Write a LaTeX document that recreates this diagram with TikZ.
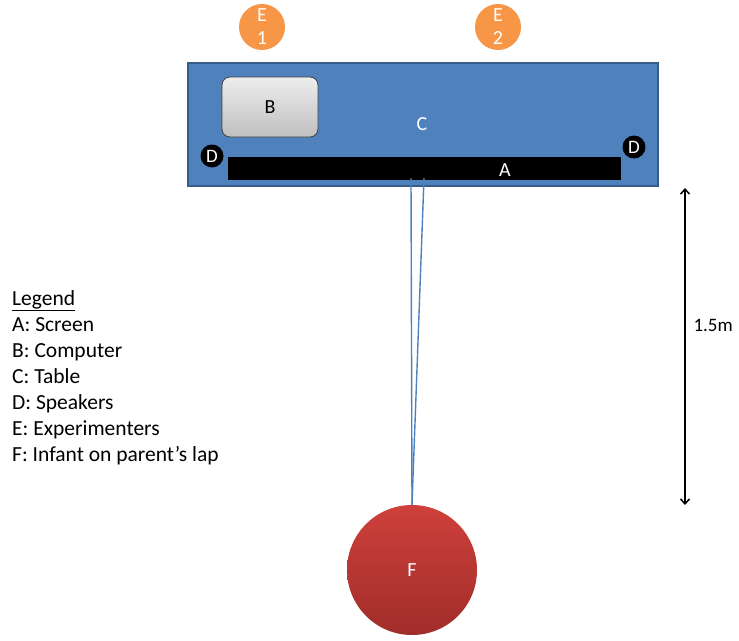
\documentclass[tikz,border=0pt]{standalone}
\usepackage{fontspec}
\setmainfont{Carlito}
\usetikzlibrary{arrows.meta}
\definecolor{tblue}{HTML}{4F81BD}
\definecolor{tblueedge}{HTML}{385D8A}
\definecolor{torange}{HTML}{F79646}
\definecolor{tredtop}{HTML}{CF403B}
\definecolor{tredbot}{HTML}{A02D2A}
\begin{document}
\begin{tikzpicture}[x=1pt,y=-1pt,
  lbl/.style={font=\fontsize{20}{24}\selectfont},
  wlbl/.style={lbl,text=white},
  spk/.style={circle,fill=black,minimum size=23pt,inner sep=0pt,text=white,font=\fontsize{19}{22}\selectfont},
  expm/.style={circle,fill=torange,minimum size=46pt,inner sep=0pt,text=white,align=center,font=\fontsize{20}{23}\selectfont},
  gaze/.style={draw=tblue,line width=1.4pt}]
\useasboundingbox (0,0) rectangle (739,640);
% table
\node[draw=tblueedge,line width=1.5pt,fill=tblue,minimum width=470pt,minimum height=123pt,inner sep=0pt] (table) at (423,124.5) {};
\node[wlbl] (C) at (422,124) {C};
% screen
\node[fill=black,minimum width=393pt,minimum height=23pt,inner sep=0pt] (screen) at (424.5,168.5) {};
\node[wlbl] (A) at (505,170) {A};
% computer
\node[draw=black!75,line width=0.8pt,rounded corners=8pt,top color=white!93!black,bottom color=black!25,minimum width=96pt,minimum height=60pt,inner sep=0pt,lbl] (B) at (270,107) {B};
% speakers
\node[spk] (D1) at (212,156) {D};
\node[spk] (D2) at (634,147) {D};
% experimenters
\node[expm] (E1) at (262,27) {E\\1};
\node[expm] (E2) at (498,27) {E\\2};
% infant
\node[circle,top color=tredtop,bottom color=tredbot,minimum size=130pt,inner sep=0pt,text=white,lbl] (F) at (412,570) {F};
% gaze lines
\coordinate (s1) at (411,178);
\coordinate (s2) at (424,178);
\draw[gaze] (s1) -- (F.north);
\draw[gaze] (s2) -- (F.north);
% distance arrow
\coordinate (m1) at (685,188);
\coordinate (m2) at (685,505);
\draw[line width=1.5pt,{Straight Barb[length=5pt,width=9pt]}-{Straight Barb[length=5pt,width=9pt]}] (m1) -- (m2);
\node[font=\fontsize{19}{22}\selectfont,anchor=west] (dist) at (690,325) {1.5m};
% legend
\node[anchor=north west,align=left,inner sep=0pt,font=\fontsize{21.5}{26}\selectfont] (legend) at (12,290)
{\underline{Legend}\\A: Screen\\B: Computer\\C: Table\\D: Speakers\\E: Experimenters\\F: Infant on parent’s lap};
\end{tikzpicture}
\end{document}
